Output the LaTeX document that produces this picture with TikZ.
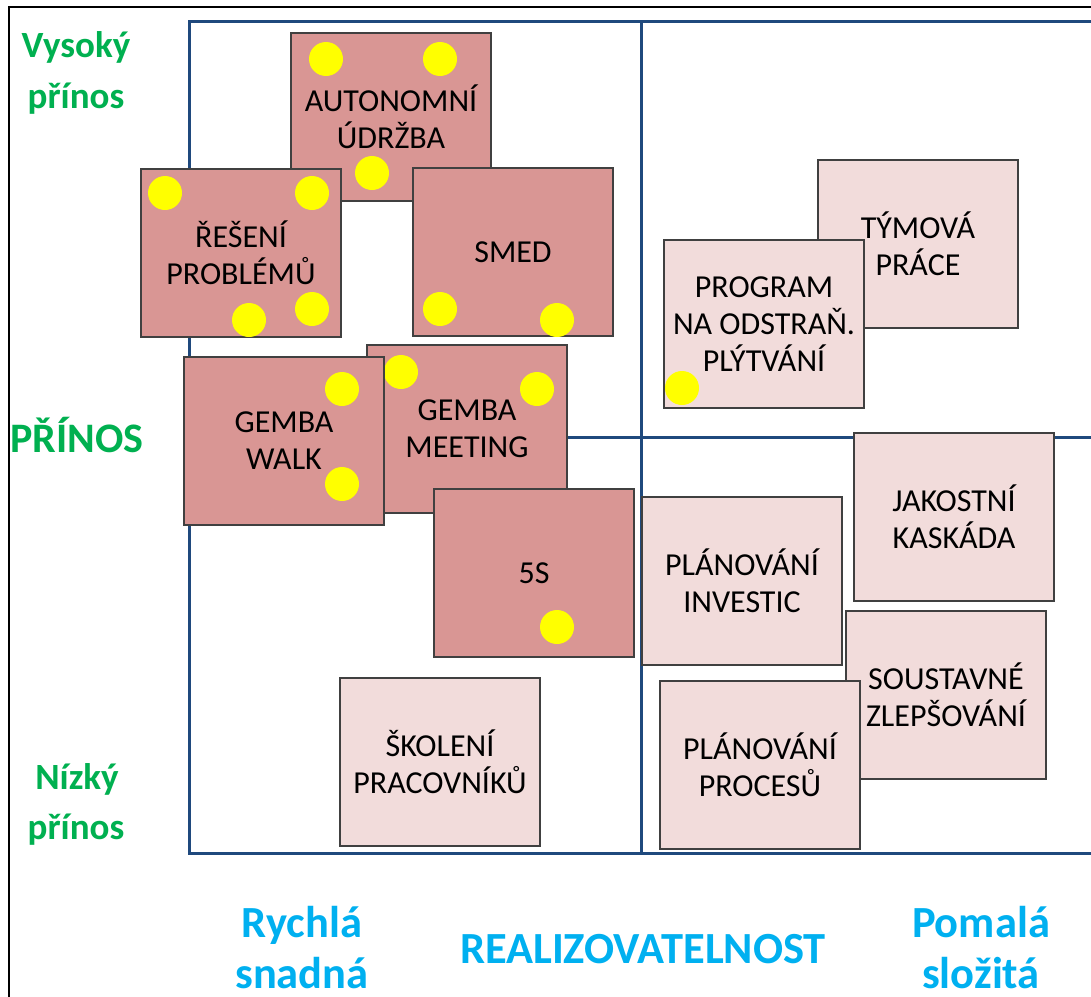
\documentclass[tikz,border=0pt]{standalone}
\usepackage{fontspec}
\setmainfont{Carlito}
\usetikzlibrary{shadows}

\definecolor{framecol}{HTML}{1F497D}
\definecolor{hicol}{HTML}{D99694}
\definecolor{locol}{HTML}{F2DCDB}
\definecolor{benefit}{HTML}{00B050}
\definecolor{feasible}{HTML}{00B0F0}
\definecolor{dotcol}{HTML}{FFFF00}

\newcommand{\boxfont}{\fontsize{32}{37}\selectfont}
\newcommand{\axisfont}{\fontsize{37}{44}\selectfont\bfseries}
\newcommand{\bigaxisfont}{\fontsize{42}{50}\selectfont\bfseries}
\newcommand{\feasfont}{\fontsize{44.5}{50}\selectfont\bfseries}

\tikzset{
  card/.style={draw=black!75, line width=1.3pt, inner sep=0pt, outer sep=0pt,
    minimum width=200pt, minimum height=168pt, anchor=north west,
    align=center, font=\boxfont, text=black,
    drop shadow={shadow xshift=1.2pt, shadow yshift=-1.2pt, fill=black!40, opacity=0.45}},
  hicard/.style={card, fill=hicol},
  locard/.style={card, fill=locol},
  dot/.style={fill=dotcol},
  greenlbl/.style={anchor=base, text=benefit, font=\axisfont, inner sep=0pt},
  bluelbl/.style={anchor=base, text=feasible, font=\feasfont, inner sep=0pt},
  grid/.style={draw=framecol, line width=3pt}
}

\begin{document}
\begin{tikzpicture}[x=1pt, y=-1pt]
\useasboundingbox (0,0) rectangle (1091,996);
\fill[white] (0,0) rectangle (1091,996);
\begin{scope}
\clip (0,0) rectangle (1091,996);

% outer frame
\draw[black, line width=2.2pt] (9,7) rectangle (1120,1030);

% quadrant grid
\draw[grid] (189,21) rectangle (1120,853);
\draw[grid] (641,21) -- (641,853);
\draw[grid] (189,437) -- (1120,437);

% high benefit, quick
\node[hicard] (aut) at (291,33) {AUTONOMNÍ\\ÚDRŽBA};
\fill[dot] (326,59) circle (17pt) (440,59) circle (17pt) (372,173) circle (17pt);

\node[hicard] (res) at (141,169) {ŘEŠENÍ\\PROBLÉMŮ};
\fill[dot] (165,193) circle (17pt) (312,193) circle (17pt) (249,320) circle (17pt) (312,309) circle (17pt);

\node[hicard] (smed) at (413,168) {SMED};
\fill[dot] (440,309) circle (17pt) (557,320) circle (17pt);

\node[hicard] (gm) at (367,345) {GEMBA\\MEETING};
\fill[dot] (401,372) circle (17pt) (537,389) circle (17pt);

\node[hicard] (gw) at (184,357) {GEMBA\\WALK};
\fill[dot] (342,389) circle (17pt) (342,484) circle (17pt);

\node[hicard] (fives) at (434,489) {5S};
\fill[dot] (557,627) circle (17pt);

% lower priority cards
\node[locard] (tym) at (818,160) {TÝMOVÁ\\PRÁCE};
\node[locard] (prog) at (664,240) {PROGRAM\\NA ODSTRAŇ.\\PLÝTVÁNÍ};
\fill[dot] (682,388) circle (17pt);

\node[locard] (jak) at (854,433) {JAKOSTNÍ\\KASKÁDA};
\node[locard] (inv) at (642,497) {PLÁNOVÁNÍ\\INVESTIC};
\node[locard] (sou) at (846,611) {SOUSTAVNÉ\\ZLEPŠOVÁNÍ};
\node[locard] (proc) at (660,681) {PLÁNOVÁNÍ\\PROCESŮ};
\node[locard] (sko) at (340,678) {ŠKOLENÍ\\PRACOVNÍKŮ};

% vertical axis labels
\node[greenlbl] (vys1) at (76,57) {Vysoký};
\node[greenlbl] (vys2) at (76,108) {přínos};
\node[greenlbl, font=\bigaxisfont] (prin) at (77,452) {PŘÍNOS};
\node[greenlbl] (niz1) at (77,789) {Nízký};
\node[greenlbl] (niz2) at (76,839) {přínos};

% horizontal axis labels
\node[bluelbl] (ry1) at (302,937) {Rychlá};
\node[bluelbl] (ry2) at (302,988) {snadná};
\node[bluelbl] (real) at (643,963) {REALIZOVATELNOST};
\node[bluelbl] (po1) at (981,937) {Pomalá};
\node[bluelbl] (po2) at (981,988) {složitá};
\end{scope}
\end{tikzpicture}
\end{document}
